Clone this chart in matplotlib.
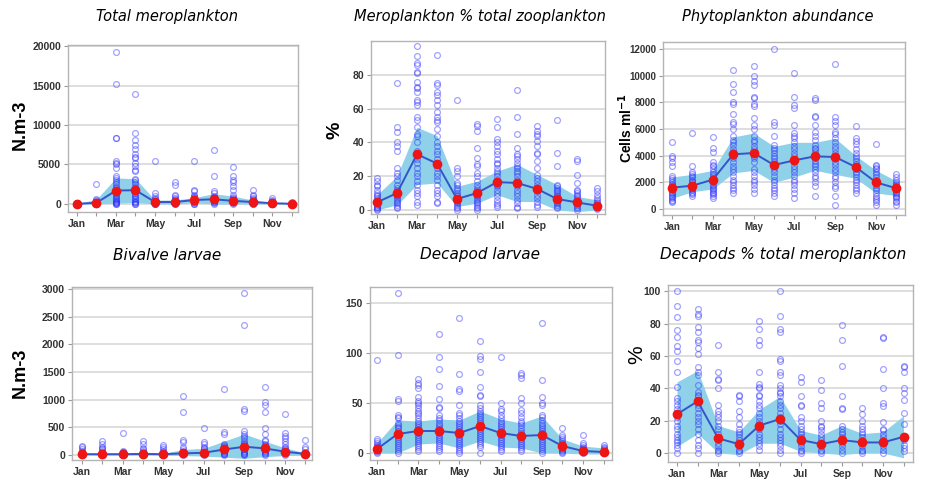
import numpy as np
import matplotlib
matplotlib.use("Agg")
import matplotlib.pyplot as plt

months = list(range(1, 13))
month_labels = ["Jan", "", "Mar", "", "May", "", "Jul", "", "Sep", "", "Nov", ""]

# Total meroplankton (N.m-3)
tm_mean = [20, 150, 1700, 1750, 250, 250, 500, 600, 400, 250, 100, 30]
tm_lo = [0, 0, 100, 200, 0, 0, 150, 0, 0, 0, 0, 0]
tm_hi = [60, 600, 3300, 3200, 500, 500, 800, 1300, 1000, 500, 200, 60]
tm_pts = [
    [0, 10, 20, 30, 40, 50, 60, 80, 100, 120, 150, 5, 15, 25, 35, 45],
    [2500, 600, 500, 400, 300, 250, 200, 150, 100, 80, 60, 40, 20, 10, 0],
    [19300, 15200, 8400, 8300, 5500, 5200, 5000, 4500, 3500, 3300, 3000, 2800, 2500, 2200, 2000,
     1800, 1600, 1400, 1200, 1000, 800, 600, 500, 400, 300, 200, 150, 100, 50, 0],
    [13900, 9000, 8100, 7500, 7000, 6300, 6000, 5800, 5200, 4800, 4300, 4200, 3200, 3000, 2800,
     2500, 2200, 2000, 1700, 1400, 1200, 1000, 800, 600, 400, 300, 200, 100, 50, 0],
    [5500, 1400, 1000, 800, 600, 500, 400, 300, 250, 200, 150, 100, 50, 20, 0],
    [2800, 2400, 1200, 1000, 800, 600, 500, 400, 300, 200, 150, 100, 50, 0],
    [5500, 1800, 1600, 1200, 1000, 900, 800, 700, 600, 500, 400, 300, 200, 100, 50, 0],
    [6800, 3500, 1700, 1400, 1000, 900, 800, 700, 600, 500, 400, 300, 200, 100, 0],
    [4700, 3600, 3000, 2800, 2300, 1800, 1100, 900, 800, 600, 500, 400, 300, 200, 100, 0],
    [1800, 1200, 1000, 800, 600, 500, 400, 300, 200, 100, 50, 0],
    [800, 500, 400, 300, 200, 150, 100, 50, 20, 0],
    [200, 150, 100, 60, 40, 20, 10, 0],
]

# Meroplankton % total zooplankton
mz_mean = [4.5, 10, 33, 27.5, 6.5, 10, 16.5, 16, 12.5, 6.5, 4.5, 2.5]
mz_lo = [0, 3, 15, 16, 2, 4, 9, 5, 5, 0, -1, 0]
mz_hi = [9, 20, 49, 44, 14, 17, 23, 27, 21, 15, 8, 6]
mz_pts = [
    [19, 17, 15, 14, 12, 10, 9, 8, 7, 6, 5, 4, 3, 2, 1.5, 1, 0.5, 0],
    [75, 49, 46, 40, 38, 35, 25, 22, 20, 18, 15, 13, 12, 10, 9, 8, 7, 6, 5, 4, 3, 2, 1],
    [97, 91, 87, 86, 82, 81, 76, 73, 72, 70, 65, 64, 62, 55, 53, 49, 45, 44, 40, 35, 32, 30, 28,
     25, 22, 20, 17, 15, 12, 10, 8, 5, 3],
    [92, 75, 74, 70, 68, 65, 62, 58, 55, 53, 52, 48, 44, 40, 38, 35, 33, 30, 28, 25, 22, 20, 18,
     15, 12, 10, 8, 5, 4],
    [65, 25, 23, 20, 16, 15, 13, 12, 10, 9, 8, 7, 6, 5, 4, 3, 2, 1, 0],
    [51, 50, 47, 37, 31, 27, 26, 22, 20, 17, 15, 13, 12, 10, 9, 8, 7, 6, 5, 4, 3, 2, 1, 0],
    [54, 49, 42, 40, 38, 35, 33, 30, 28, 27, 25, 23, 22, 20, 18, 17, 15, 14, 12, 10, 8, 6, 4, 3, 2],
    [71, 55, 45, 37, 33, 32, 30, 28, 26, 25, 23, 22, 20, 18, 16, 14, 12, 10, 8, 6, 4, 2, 1],
    [50, 47, 45, 44, 41, 38, 34, 33, 29, 25, 21, 19, 17, 15, 13, 11, 9, 7, 5, 3, 2],
    [53, 34, 26, 15, 14, 13, 12, 11, 10, 9, 8, 7, 6, 5, 4, 3, 2, 1],
    [30, 29, 21, 16, 12, 11, 10, 9, 8, 7, 6, 5, 4, 3, 2, 1, 0],
    [13, 11, 9, 7, 6, 5, 4, 3, 2, 1, 0.5],
]

# Phytoplankton abundance (cells ml-1)
ph_mean = [1600, 1750, 2200, 4100, 4200, 3300, 3650, 3950, 3900, 3150, 2000, 1550]
ph_lo = [800, 1300, 1500, 2700, 2900, 2000, 2400, 2900, 2600, 2300, 1200, 1000]
ph_hi = [2400, 2600, 2900, 5400, 5700, 4700, 5000, 5000, 5300, 4000, 2900, 2100]
ph_pts = [
    [5000, 4000, 3800, 3500, 3200, 2500, 2300, 2200, 2000, 1900, 1800, 1700, 1600, 1500, 1400,
     1300, 1200, 1100, 1000, 900, 800, 700, 600, 500],
    [5700, 3200, 2800, 2600, 2500, 2400, 2200, 2100, 2000, 1900, 1800, 1700, 1600, 1500, 1400,
     1300, 1200, 1100, 1000],
    [5400, 4600, 4300, 3500, 3300, 3200, 3000, 2800, 2600, 2500, 2300, 2200, 2000, 1800, 1700,
     1600, 1500, 1400, 1300, 1200, 1100, 1000, 800],
    [10400, 9400, 8800, 8000, 7900, 7100, 6500, 6400, 6000, 5500, 5200, 5000, 4800, 4500, 4300,
     4000, 3800, 3500, 3200, 3000, 2800, 2500, 2200, 2000, 1800, 1600, 1400, 1200],
    [10700, 10000, 9600, 9300, 8400, 8300, 7900, 7700, 6800, 6300, 6000, 5500, 5200, 5000, 4700,
     4500, 4200, 4000, 3800, 3500, 3000, 2800, 2500, 2200, 2000, 1800, 1500, 1200],
    [12000, 6500, 6300, 5500, 4800, 4600, 4400, 4200, 4000, 3800, 3600, 3400, 3200, 3000, 2800,
     2500, 2200, 2000, 1800, 1600, 1400, 1200, 1000],
    [10200, 8400, 7800, 7600, 6300, 5700, 5500, 5300, 5000, 4700, 4500, 4200, 4000, 3700, 3500,
     3200, 3000, 2800, 2500, 2200, 2000, 1800, 1500, 1200, 800],
    [8300, 8200, 7000, 6900, 6300, 5800, 5500, 5200, 4800, 4600, 4500, 4300, 4000, 3800, 3600,
     3400, 3200, 3000, 2800, 2500, 2300, 2000, 1700, 1000],
    [10900, 6900, 6600, 6300, 5800, 5600, 5300, 5000, 4700, 4500, 4200, 4000, 3800, 3500, 3300,
     3000, 2800, 2500, 2300, 2000, 1700, 1600, 1000, 300],
    [6200, 5300, 5100, 4900, 4500, 4200, 4000, 3800, 3600, 3400, 3200, 3000, 2800, 2600, 2400,
     2200, 2000, 1800, 1600, 1400, 1200],
    [4900, 3300, 3200, 3100, 3000, 2800, 2600, 2400, 2200, 2000, 1800, 1600, 1400, 1200, 1000,
     800, 700, 500, 300],
    [2600, 2400, 2200, 2000, 1900, 1800, 1700, 1600, 1500, 1400, 1300, 1200, 1100, 1000, 900,
     800, 600, 500, 300],
]

# Bivalve larvae (N.m-3)
bv_mean = [15, 15, 15, 20, 15, 30, 40, 100, 150, 120, 60, 20]
bv_lo = [0, 0, 0, 0, 0, -10, -20, -40, -60, -30, -10, 0]
bv_hi = [30, 30, 30, 40, 30, 100, 120, 250, 380, 250, 130, 40]
bv_pts = [
    [170, 150, 100, 70, 50, 40, 30, 20, 15, 10, 5, 0],
    [250, 200, 150, 120, 100, 80, 60, 40, 30, 20, 10, 0],
    [400, 80, 60, 50, 40, 30, 20, 10, 5, 0],
    [250, 200, 120, 100, 80, 60, 40, 30, 20, 10, 0],
    [190, 150, 100, 80, 60, 40, 30, 20, 10, 0],
    [1070, 770, 270, 240, 150, 100, 80, 60, 40, 30, 20, 10, 0],
    [480, 240, 200, 150, 120, 100, 80, 60, 40, 30, 20, 10, 0],
    [1200, 420, 380, 200, 180, 160, 140, 120, 100, 80, 60, 40, 20, 10, 0],
    [2920, 2350, 830, 800, 430, 380, 350, 300, 250, 220, 200, 180, 150, 120, 100, 80, 60, 40, 20, 10, 0],
    [1230, 950, 900, 770, 480, 380, 280, 250, 200, 180, 150, 120, 100, 80, 60, 40, 20, 0],
    [750, 390, 350, 300, 250, 200, 150, 120, 100, 80, 60, 40, 20, 0],
    [270, 150, 100, 60, 40, 20, 10, 0],
]

# Decapod larvae (N.m-3)
dl_mean = [4, 19, 22, 22, 20, 27, 20, 17, 18, 7, 2, 1]
dl_lo = [0, 0, 9, 10, 5, 12, 6, 5, 0, 0, -1, -1]
dl_hi = [10, 33, 32, 34, 33, 42, 34, 30, 37, 14, 7, 5]
dl_pts = [
    [93, 14, 12, 10, 8, 7, 6, 5, 4, 3, 2, 1, 0],
    [160, 98, 54, 52, 38, 36, 35, 30, 28, 26, 25, 22, 20, 18, 16, 14, 12, 10, 8, 6, 4, 2, 0],
    [74, 70, 68, 65, 56, 52, 50, 48, 45, 42, 40, 38, 35, 32, 30, 28, 26, 24, 22, 20, 18, 16, 14,
     12, 10, 8, 6, 4, 2],
    [119, 96, 84, 67, 54, 46, 45, 38, 35, 33, 30, 28, 26, 24, 22, 20, 18, 16, 14, 12, 10, 8, 6, 4, 2],
    [135, 79, 64, 62, 48, 40, 38, 35, 32, 30, 28, 26, 24, 22, 20, 18, 16, 14, 12, 10, 8, 6, 4, 2, 0],
    [112, 97, 94, 81, 66, 58, 57, 48, 45, 42, 40, 38, 36, 34, 32, 30, 28, 26, 24, 22, 20, 18, 16,
     14, 12, 10, 8, 6, 0],
    [96, 50, 44, 42, 38, 35, 32, 30, 28, 26, 24, 22, 20, 18, 16, 14, 12, 10, 8, 6, 4, 2],
    [80, 78, 75, 55, 50, 43, 40, 36, 32, 30, 28, 25, 22, 20, 18, 16, 14, 12, 10, 8, 6, 4, 2],
    [130, 73, 56, 50, 48, 38, 36, 33, 30, 28, 26, 24, 22, 20, 18, 16, 14, 12, 10, 8, 6, 4, 2, 0],
    [25, 18, 16, 14, 12, 10, 9, 8, 7, 6, 5, 4, 3, 2, 1, 0],
    [18, 10, 8, 6, 5, 4, 3, 2, 1, 0],
    [8, 6, 5, 4, 3, 2, 1, 0],
]

# Decapods % total meroplankton
dp_mean = [24, 32, 9, 5.5, 17, 21, 8, 5.5, 8, 6.5, 6.5, 10]
dp_lo = [4, 12, 0, -1, 6, 6, 1, 0, -1, 0, 0, -3]
dp_hi = [44, 51, 17, 13, 27, 35, 14, 11, 17, 12, 13, 23]
dp_pts = [
    [100, 91, 84, 76, 72, 66, 63, 57, 50, 41, 34, 32, 30, 27, 25, 22, 20, 17, 15, 12, 10, 8, 7, 5, 3, 0],
    [89, 86, 85, 78, 75, 70, 69, 65, 61, 53, 50, 48, 42, 38, 36, 35, 33, 30, 28, 25, 22, 20, 18,
     15, 12, 8, 5, 3, 0],
    [67, 50, 46, 45, 40, 30, 26, 24, 22, 20, 17, 15, 12, 10, 8, 6, 4, 2, 1, 0],
    [36, 35, 32, 26, 22, 18, 15, 13, 12, 10, 8, 6, 4, 2, 1, 0],
    [82, 77, 70, 67, 50, 43, 41, 40, 36, 35, 32, 30, 28, 25, 22, 20, 18, 15, 12, 10, 8, 6, 4, 2],
    [100, 85, 77, 75, 58, 57, 50, 48, 42, 40, 38, 37, 35, 32, 30, 28, 25, 22, 20, 18, 15, 12, 10,
     8, 6, 4, 2, 0],
    [47, 44, 35, 30, 29, 22, 20, 17, 15, 13, 12, 10, 8, 6, 4, 2, 1, 0],
    [45, 39, 31, 28, 20, 17, 16, 14, 12, 10, 8, 6, 4, 2, 1, 0],
    [79, 70, 54, 35, 28, 27, 17, 15, 13, 12, 10, 8, 6, 4, 2, 0],
    [28, 24, 20, 17, 15, 13, 12, 10, 8, 6, 4, 2, 1, 0],
    [72, 71, 52, 40, 31, 29, 19, 15, 14, 12, 10, 8, 6, 4, 2, 0],
    [54, 53, 50, 40, 37, 33, 25, 18, 10, 8, 5, 3, 1],
]

W, H = 935, 482
fig = plt.figure(figsize=(W / 100, H / 100), dpi=100)
fig.patch.set_facecolor("white")


def px_axes(left, top, right, bottom):
    return fig.add_axes([left / W, 1 - bottom / H, (right - left) / W, (bottom - top) / H])


def draw_panel(ax, mean, lo, hi, pts, xlim, ylim, yticks, tick_size=7.5):
    ax.fill_between(months, lo, hi, color="#8fd1e8", lw=0, zorder=1)
    for m, vals in zip(months, pts):
        ax.plot([m] * len(vals), vals, ls="none", marker="o", ms=4.2, mfc="none",
                mec=(0.2, 0.2, 1.0, 0.45), mew=0.9, zorder=2)
    ax.plot(months, mean, color="#3355cc", lw=1.4, zorder=3)
    ax.plot(months, mean, ls="none", marker="o", ms=6, color="#ee1515", zorder=4)
    ax.set_xlim(*xlim)
    ax.set_ylim(*ylim)
    ax.set_yticks(yticks)
    ax.set_xticks(months)
    ax.set_xticklabels(month_labels)
    ax.yaxis.grid(True, color="#d4d4d4", lw=1.1)
    ax.set_axisbelow(True)
    for s in ax.spines.values():
        s.set_color("#b4b4b4")
        s.set_linewidth(1.0)
    ax.tick_params(length=3, color="#999999", pad=2, labelcolor="#333333")
    for lab in ax.get_xticklabels() + ax.get_yticklabels():
        lab.set_fontfamily("Liberation Sans")
        lab.set_fontweight("bold")
        lab.set_fontsize(tick_size)


ax1 = px_axes(68, 45, 298, 212)
draw_panel(ax1, tm_mean, tm_lo, tm_hi, tm_pts, (0.54, 12.33), (-1013, 20127),
           [0, 5000, 10000, 15000, 20000])
ax2 = px_axes(371, 41, 605, 214)
draw_panel(ax2, mz_mean, mz_lo, mz_hi, mz_pts, (0.7, 12.4), (-2.4, 100.1), [0, 20, 40, 60, 80])
ax3 = px_axes(663, 42, 905, 215)
draw_panel(ax3, ph_mean, ph_lo, ph_hi, ph_pts, (0.56, 12.42), (-450, 12525),
           [0, 2000, 4000, 6000, 8000, 10000, 12000], tick_size=7)
ax4 = px_axes(72, 287, 312, 460)
draw_panel(ax4, bv_mean, bv_lo, bv_hi, bv_pts, (0.51, 12.33), (-90, 3036),
           [0, 500, 1000, 1500, 2000, 2500, 3000])
ax5 = px_axes(370, 287, 612, 460)
draw_panel(ax5, dl_mean, dl_lo, dl_hi, dl_pts, (0.66, 12.41), (-7, 166), [0, 50, 100, 150])
ax6 = px_axes(668, 285, 913, 462)
draw_panel(ax6, dp_mean, dp_lo, dp_hi, dp_pts, (0.56, 12.46), (-5.6, 104), [0, 20, 40, 60, 80, 100])

# panel titles
title_kw = dict(ha="center", va="center", style="italic", family="DejaVu Sans", color="black")
fig.text(167 / W, 1 - 17 / H, "Total meroplankton", fontsize=10.5, **title_kw)
fig.text(480 / W, 1 - 17 / H, "Meroplankton % total zooplankton", fontsize=10.5, **title_kw)
fig.text(778 / W, 1 - 17 / H, "Phytoplankton abundance", fontsize=10.5, **title_kw)
fig.text(167 / W, 1 - 255 / H, "Bivalve larvae", fontsize=11, **title_kw)
fig.text(480 / W, 1 - 255 / H, "Decapod larvae", fontsize=11, **title_kw)
fig.text(783 / W, 1 - 255 / H, "Decapods % total meroplankton", fontsize=11, **title_kw)

# y axis labels
ylab_kw = dict(ha="center", va="center", rotation=90, family="Liberation Sans", color="black")
fig.text(20 / W, 1 - 125 / H, "N.m-3", fontsize=13, weight="bold", **ylab_kw)
fig.text(335 / W, 1 - 130 / H, "%", fontsize=14, weight="bold", **ylab_kw)
fig.text(626 / W, 1 - 128 / H, "Cells ml$^{\\mathbf{-1}}$", fontsize=10, weight="bold", **ylab_kw)
fig.text(20 / W, 1 - 373 / H, "N.m-3", fontsize=13, weight="bold", **ylab_kw)
fig.text(637 / W, 1 - 355 / H, "%", fontsize=15, **ylab_kw)

fig.savefig("out.png", dpi=100)
